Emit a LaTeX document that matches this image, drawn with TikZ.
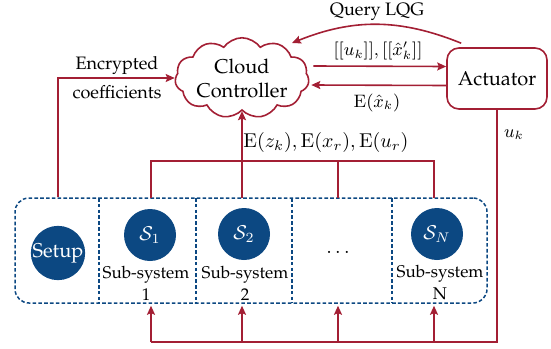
\documentclass[tikz,border=0pt]{standalone}
\usepackage[T1]{fontenc}
\renewcommand{\rmdefault}{ppl}
\usetikzlibrary{shapes.symbols,arrows.meta}
\definecolor{linkred}{RGB}{163,31,52}
\definecolor{nodeblue}{RGB}{12,72,130}

\begin{document}
\begin{tikzpicture}[x=0.5pt,y=-0.5pt,
    link/.style={linkred,line width=0.8pt},
    arr/.style={link,-{Stealth[length=4.5pt,width=4pt,inset=0.8pt]}},
    sys/.style={circle,fill=nodeblue,text=white,minimum size=26pt,inner sep=0pt},
    cell/.style={draw=nodeblue,line width=0.75pt,dash pattern=on 1.8pt off 1.1pt},
    sublabel/.style={align=center,font=\fontsize{8.5}{11}\selectfont},
    tag/.style={font=\small,inner sep=1pt}]

\useasboundingbox (0,0) rectangle (551,348);

	\node[cloud,draw=linkred,line width=0.8pt,cloud puffs=11,cloud puff arc=110,aspect=2,
	      minimum width=67pt,minimum height=35pt,inner sep=0pt,align=center] (cc) at (242,78) {Cloud\\Controller};
	\node[draw=linkred,line width=0.8pt,rounded corners=6pt,minimum width=50pt,minimum height=30.5pt] (act) at (497,78.5) {Actuator};

	\node[cell,rounded corners=7pt,minimum width=236pt,minimum height=52.5pt] (frame) at (251,250.5) {};
	\foreach \x in {99,196,292,392}
		\draw[cell] (\x,198) -- (\x,303);

	\node[sys,minimum size=27pt] (setup) at (58,253) {Setup};
	\node[sys] (s1) at (150,235) {$\mathcal{S}_1$};
	\node[sys] (s2) at (244,234) {$\mathcal{S}_2$};
	\node (dots) at (338,252) {$\dots$};
	\node[sys] (sN) at (437,234) {$\mathcal{S}_N$};
	\node[sublabel] (sub1) at (146,283) {Sub-system\\1};
	\node[sublabel] (sub2) at (245,283) {Sub-system\\2};
	\node[sublabel] (subN) at (440,283) {Sub-system\\N};

	\coordinate (t1) at (151,198);
	\coordinate (t2) at (242,198);
	\coordinate (t3) at (338,198);
	\coordinate (tN) at (434,198);
	\coordinate (bus) at (0,161);
	\coordinate (loop) at (0,342);

	\draw[arr] ([shift={(2pt,6pt)}]cc.east) -- ([yshift=6pt]act.west);
	\draw[arr] ([yshift=-3.5pt]act.west) -- ([shift={(1pt,-3.5pt)}]cc.east);
	\draw[arr] ([shift={(7.5pt,2pt)}]act.north west) to[bend right=22] ([shift={(25pt,17.5pt)}]cc.center);
	\draw[arr] (setup.north |- frame.north) |- (cc.west);

	\draw[link] (t1) -- (t1 |- bus) -- (tN |- bus) -- (tN);
	\draw[link] (t3) -- (t3 |- bus);
	\draw[arr] (t2) -- (t2 |- cc.south);

	\draw[link] (act.south) -- (act.south |- loop) -- (t1 |- loop);
	\foreach \p in {t1,t2,t3,tN}
		\draw[arr,shorten >=1pt] (\p |- loop) -- (\p |- frame.south);

	\node[tag] (querylabel) at (377,12) {Query LQG};
	\node[tag,align=center] (enclabel) at (117,78) {Encrypted\\[3.5pt]coefficients};
	\node[tag] (uplabel) at (378,51) {$[[u_k]],[[\hat{x}'_k]]$};
	\node[tag] (downlabel) at (377,103) {$\mathrm{E}(\hat{x}_k)$};
	\node[inner sep=1pt] (buslabel) at (326,142) {$\mathrm{E}(z_k),\mathrm{E}(x_r),\mathrm{E}(u_r)$};
	\node[tag] (uklabel) at (514,135) {$u_k$};

\end{tikzpicture}
\end{document}
